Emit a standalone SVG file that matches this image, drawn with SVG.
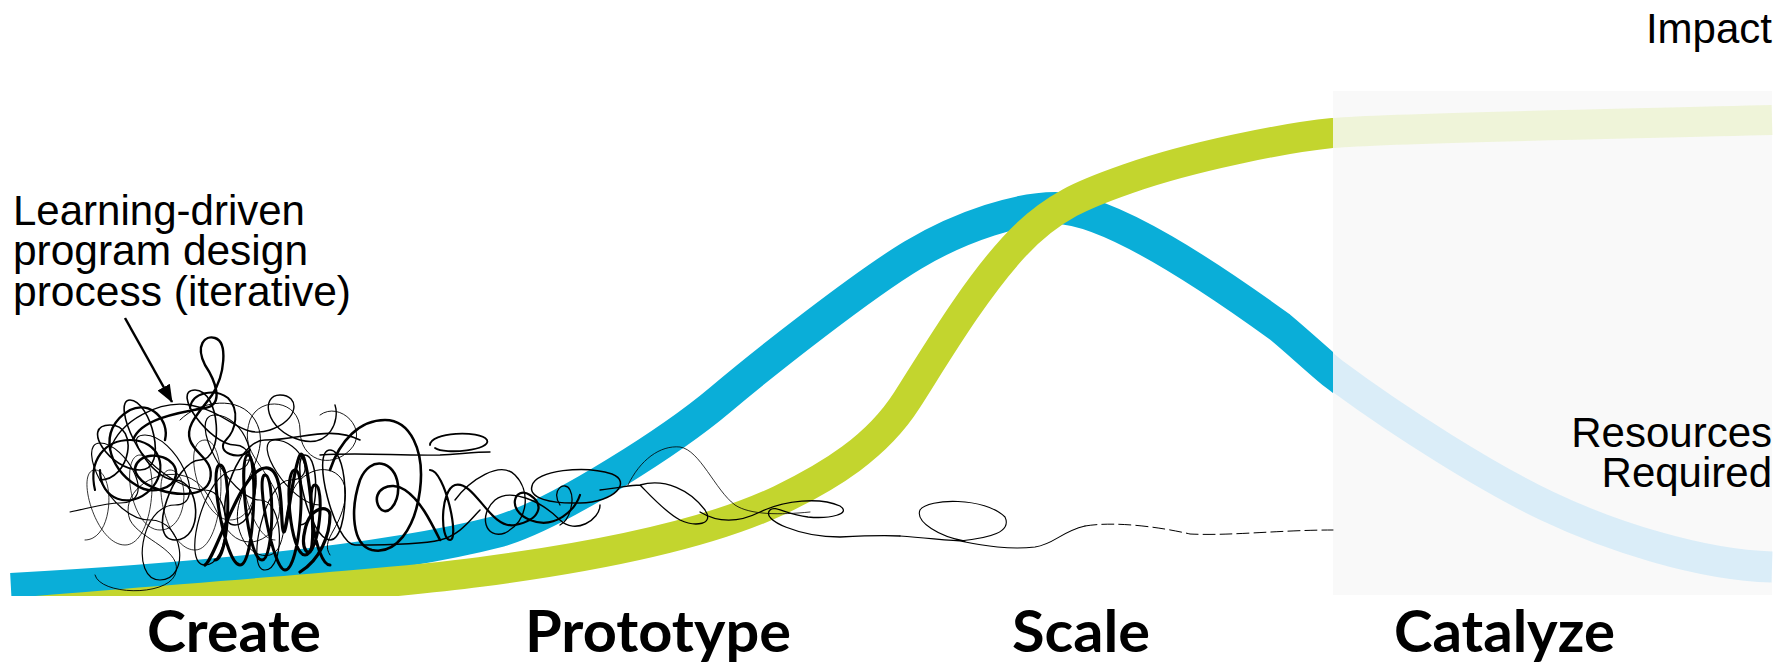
<svg xmlns="http://www.w3.org/2000/svg" width="1791" height="666" viewBox="0 0 1791 666">
<style>
.lbl{font-family:"Liberation Sans",Arial,sans-serif;font-size:42px;fill:#000}
.stage{font-family:Lato,"Open Sans",sans-serif;font-weight:700;font-size:57px;fill:#000}
.band{fill:none;stroke-linecap:butt}
.sc{fill:none;stroke:#000;stroke-linecap:round;stroke-linejoin:round}
</style>
<defs>
<clipPath id="clipLeft"><rect x="0" y="0" width="1333" height="596"/></clipPath>
<clipPath id="clipRight"><rect x="1333" y="0" width="458" height="596"/></clipPath>
<path id="blueC" d="M 11 589 C 180 580, 380 562, 500 531 C 560 513, 675 438, 720 400 C 765 362, 863 285, 913 255 C 963 225, 1020 208, 1055 208 C 1110 208, 1215 280, 1280 327 C 1298 342, 1315 358, 1333 373 C 1400 423, 1490 479, 1547 506 C 1610 536, 1700 565, 1772 567"/>
<path id="greenC" d="M 0 614 C 200 597, 380 585, 480 572 C 580 559, 700 538, 780 500 C 830 476, 877 447, 907 400 C 937 353, 973 292, 1013 248 C 1053 204, 1090 192, 1130 178 C 1190 157, 1283 138, 1333 133 C 1383 128, 1620 124, 1772 120"/>
<marker id="ah" markerWidth="18" markerHeight="14" refX="17" refY="7" orient="auto" markerUnits="userSpaceOnUse"><path d="M0,0 L18,7 L0,14 Z" fill="#000"/></marker>
</defs>
<rect width="1791" height="666" fill="#fff"/>
<g id="catalyze-panel"><rect x="1333" y="91" width="439" height="504" fill="#f9f9f9"/></g>
<g id="curve-resources" class="band">
<use href="#blueC" clip-path="url(#clipLeft)" stroke="#0aaed8" stroke-width="32"/>
<use href="#blueC" clip-path="url(#clipRight)" stroke="#daedf8" stroke-width="31"/>
</g>
<g id="curve-impact" class="band">
<use href="#greenC" clip-path="url(#clipLeft)" stroke="#c3d52e" stroke-width="30"/>
<use href="#greenC" clip-path="url(#clipRight)" stroke="#eff4d9" stroke-width="30"/>
</g>
<g id="scribble">
<path class="sc" stroke-width="1.2" stroke="#1a1a1a" d="M 70 512 C 90 508, 105 503, 120 503 C 160 503, 125 443, 100 443 C 75 443, 110 520, 150 520 C 185 520, 190 580, 160 580 C 130 580, 140 505, 175 505 C 210 505, 175 435, 145 435 C 115 435, 170 490, 205 490 C 235 490, 230 565, 205 565 C 180 565, 205 470, 235 470 C 265 470, 245 415, 215 415 C 185 415, 230 500, 260 500 C 285 500, 285 570, 265 570 C 245 570, 265 480, 290 480 C 320 480, 300 440, 275 440 C 250 440, 290 505, 320 505"/>
<path class="sc" stroke-width="1.6" d="M 100 480 C 130 480, 140 425, 110 425 C 80 425, 110 470, 140 470 C 170 470, 150 400, 130 400 C 110 400, 145 480, 175 480 C 200 480, 205 540, 175 540 C 145 540, 175 460, 200 460 C 225 460, 220 390, 195 390 C 170 390, 210 445, 235 445 C 265 445, 260 525, 235 525 C 210 525, 235 440, 265 440 C 300 440, 330 425, 360 440"/>
<path class="sc" stroke-width="0.9" stroke="#333" d="M 95 575 C 100 595, 165 597, 175 575 C 185 550, 140 540, 130 520 C 120 495, 150 470, 180 475 C 215 480, 215 530, 240 540 C 265 550, 290 520, 275 490 C 260 460, 240 450, 250 420 C 260 395, 300 400, 300 430 C 300 460, 330 470, 350 450 C 370 430, 340 400, 320 415"/>
<path class="sc" stroke-width="0.8" stroke="#222" d="M 85 540 C 115 540, 115 470, 95 470 C 75 470, 95 545, 125 545 C 155 545, 160 455, 140 455 C 120 455, 130 530, 160 530 C 190 530, 190 470, 170 470 C 150 470, 165 550, 195 550 C 225 550, 230 440, 205 440 C 180 440, 200 520, 230 520 C 260 520, 262 460, 248 460 C 234 460, 250 540, 275 540"/>
<path class="sc" stroke-width="1.4" d="M 110 450 C 120 420, 160 400, 190 405 C 230 412, 240 440, 270 430 C 300 420, 300 395, 280 395 C 260 395, 265 430, 300 440 C 330 448, 340 420, 335 405"/>
<path class="sc" stroke-width="2.2" d="M 95 490 C 88 460, 105 440, 130 440 C 160 440, 170 470, 150 490 C 130 510, 100 500, 100 470"/>
<path class="sc" stroke-width="3" d="M 215 560 C 230 560, 232 465, 220 465 C 208 465, 225 565, 240 565 C 255 565, 258 455, 248 455 C 238 455, 247 560, 262 560 C 274 560, 275 475, 265 475 C 255 475, 273 570, 285 570 C 300 570, 307 470, 295 470 C 283 470, 290 555, 305 555 C 320 555, 325 485, 315 485 C 305 485, 315 565, 330 565"/>
<path class="sc" stroke-width="3.2" d="M 205 565 C 215 560, 240 470, 265 468 C 285 466, 280 520, 283 530 C 286 545, 292 470, 300 455 C 306 445, 315 520, 312 545 C 310 560, 300 550, 305 530 C 310 505, 330 505, 330 515 C 330 535, 320 560, 300 572"/>
<path class="sc" stroke-width="2.4" d="M 133 440 C 140 420, 175 413, 205 408 C 225 405, 215 380, 205 365 C 195 345, 205 335, 215 338 C 228 342, 225 375, 212 395 C 200 412, 185 425, 190 440 C 195 455, 215 460, 210 480 C 205 498, 175 495, 160 490 C 140 484, 128 470, 140 460 C 152 450, 178 458, 176 475 C 174 490, 150 495, 136 485 C 110 470, 95 430, 130 410 C 150 400, 170 420, 165 440"/>
<path class="sc" stroke-width="2" d="M 190 408 C 192 392, 215 388, 228 398 C 240 410, 236 430, 226 440 C 214 452, 240 462, 250 450"/>
<path class="sc" stroke-width="1" stroke="#222" d="M 180 420 C 200 400, 240 395, 255 420 C 270 445, 250 470, 240 500 C 230 530, 250 560, 270 555 C 290 550, 280 500, 300 480 C 320 460, 350 470, 345 500 C 340 530, 320 540, 330 555"/>
<path class="sc" stroke-width="2.6" d="M 330 470 C 340 440, 360 420, 385 420 C 410 420, 425 450, 420 490 C 415 530, 395 555, 372 550 C 352 545, 350 510, 360 480 C 370 455, 395 460, 398 485 C 400 505, 385 520, 378 505 C 372 490, 390 480, 405 490 C 420 500, 430 520, 440 540"/>
<path class="sc" stroke-width="1.4" d="M 320 455 C 360 452, 400 456, 440 455 C 460 454, 475 452, 490 452"/>
<path class="sc" stroke-width="1.5" d="M 300 525 C 320 525, 320 455, 305 455 C 290 455, 310 540, 330 540 C 350 540, 350 450, 330 450 C 310 450, 335 545, 355 545 C 375 545, 420 545, 440 540 C 460 535, 470 520, 480 510"/>
<path class="sc" stroke-width="1.8" d="M 430 445 C 430 432, 480 430, 487 440 C 492 450, 445 455, 435 448"/>
<path class="sc" stroke-width="2.2" d="M 430 470 C 445 470, 460 540, 450 540 C 440 540, 440 490, 455 485 C 475 480, 490 530, 515 525 C 540 520, 545 505, 530 495 C 515 485, 505 510, 530 520 C 555 530, 575 510, 580 495"/>
<path class="sc" stroke-width="1.4" d="M 455 500 C 470 480, 500 460, 515 475 C 530 490, 530 520, 505 533 C 485 540, 478 515, 495 500 C 510 488, 540 500, 560 520 C 575 535, 600 520, 600 505"/>
<path class="sc" stroke-width="1.5" d="M 532 486 C 535 470, 585 465, 612 474 C 632 482, 615 502, 580 503 C 550 504, 528 498, 532 486"/>
<path class="sc" stroke-width="1.3" d="M 560 505 C 550 490, 565 480, 570 490 C 575 500, 570 520, 560 525"/>
<path class="sc" stroke-width="1.3" d="M 600 490 C 620 488, 630 485, 640 485 C 665 478, 690 490, 705 510 C 715 525, 695 527, 680 520 C 665 512, 650 495, 640 485"/>
<path class="sc" stroke-width="1.3" d="M 700 512 C 720 524, 740 522, 760 512 C 785 500, 820 497, 840 506 C 852 514, 830 519, 808 517 C 785 514, 775 505, 770 510 C 760 520, 800 537, 840 537 C 860 536, 880 535, 900 536"/>
<path class="sc" stroke-width="0.8" stroke="#444" d="M 628 485 C 640 460, 660 445, 680 447 C 700 450, 715 490, 735 505 C 750 515, 780 515, 810 512"/>
<path class="sc" stroke-width="1.1" d="M 900 536 C 930 538, 950 541, 965 541 C 940 537, 915 522, 920 510 C 928 498, 985 497, 1005 517 C 1012 532, 990 538, 960 541 C 985 546, 1010 550, 1035 547 C 1055 544, 1060 532, 1085 526"/>
<path class="sc" stroke-width="1" stroke="#777" stroke-dasharray="12 5" d="M 1085 526 C 1115 521, 1160 527, 1190 534 C 1230 536, 1280 530, 1333 530"/>
</g>
<g id="connectors">
<line x1="125" y1="318" x2="172" y2="402" stroke="#000" stroke-width="2.5" marker-end="url(#ah)"/>
</g>
<g id="label-learning">
<text class="lbl" x="13" y="225" textLength="292" lengthAdjust="spacingAndGlyphs">Learning-driven</text>
<text class="lbl" x="13" y="265" textLength="295" lengthAdjust="spacingAndGlyphs">program design</text>
<text class="lbl" x="13" y="306" textLength="338" lengthAdjust="spacingAndGlyphs">process (iterative)</text>
</g>
<g id="label-impact"><text class="lbl" x="1772" y="43" text-anchor="end">Impact</text></g>
<g id="label-resources">
<text class="lbl" x="1772" y="447" text-anchor="end">Resources</text>
<text class="lbl" x="1772" y="487" text-anchor="end">Required</text>
</g>
<g id="stage-create"><text class="stage" x="147" y="652" textLength="174" lengthAdjust="spacingAndGlyphs">Create</text></g>
<g id="stage-prototype"><text class="stage" x="525" y="652" textLength="266" lengthAdjust="spacingAndGlyphs">Prototype</text></g>
<g id="stage-scale"><text class="stage" x="1012" y="652" textLength="138" lengthAdjust="spacingAndGlyphs">Scale</text></g>
<g id="stage-catalyze"><text class="stage" x="1394" y="652" textLength="221" lengthAdjust="spacingAndGlyphs">Catalyze</text></g>
</svg>
